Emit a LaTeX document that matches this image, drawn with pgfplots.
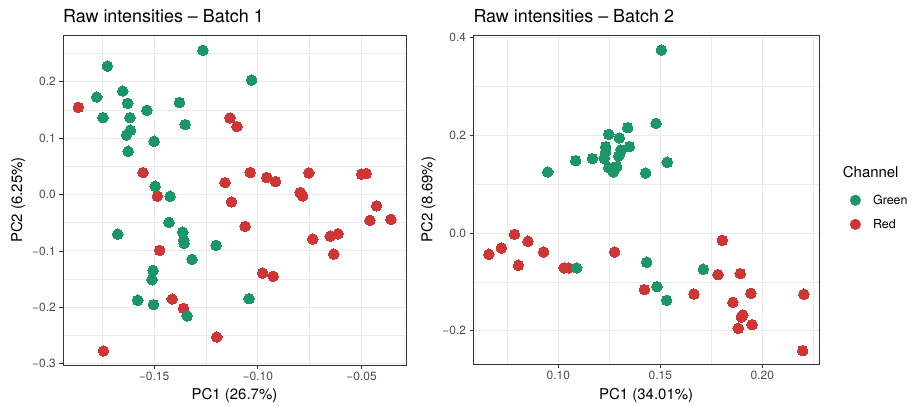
\documentclass[border=0pt]{standalone}
\usepackage{fontspec}
\setmainfont{TeX Gyre Heros}
\usepackage{pgfplots}
\pgfplotsset{compat=1.18}
\definecolor{cgreen}{HTML}{1B9669}
\definecolor{cred}{HTML}{D03535}
\definecolor{gridc}{HTML}{EBEBEB}
\definecolor{framec}{HTML}{333333}
\definecolor{ticklab}{HTML}{4D4D4D}
\pgfplotsset{
  ggstyle/.style={
    scale only axis,
    axis line style={framec, line width=0.8bp},
    tick style={framec, line width=0.7bp},
    tick align=outside,
    major tick length=3.7bp,
    minor tick length=0pt,
    grid=both,
    major grid style={gridc, line width=0.9bp},
    minor grid style={gridc, line width=0.45bp},
    tick pos=left,
    ticklabel style={font=\fontsize{12}{12}\selectfont, text=ticklab},
    label style={font=\fontsize{15}{15}\selectfont},
    title style={font=\fontsize{18}{18}\selectfont, at={(0,1)}, anchor=base west, yshift=7bp, inner sep=0pt},
    xlabel style={yshift=-1bp},
  },
  gpts/.style={only marks, mark=*, color=cgreen, mark size=5.3bp, mark options={line width=0pt}},
  rpts/.style={only marks, mark=*, color=cred, mark size=5.3bp, mark options={line width=0pt}},
}
\begin{document}
\begin{tikzpicture}
\useasboundingbox (0,0) rectangle (912bp,406bp);
\begin{axis}[ggstyle,
  at={(63bp,41bp)}, anchor=south west, width=343bp, height=330bp,
  xmin=-0.1939, xmax=-0.0286, ymin=-0.3023, ymax=0.2827,
  xtick={-0.15,-0.10,-0.05}, xticklabels={−0.15,−0.10,−0.05},
  minor xtick={-0.175,-0.125,-0.075},
  ytick={-0.3,-0.2,-0.1,0,0.1,0.2}, yticklabels={−0.3,−0.2,−0.1,0.0,0.1,0.2},
  minor ytick={-0.25,-0.15,-0.05,0.05,0.15,0.25},
  title={Raw intensities – Batch 1},
  xlabel={PC1 (26.7\%)}, ylabel={PC2 (6.25\%)},
]
\addplot[rpts] coordinates {
(-0.1865,0.1545) (-0.1134,0.1356) (-0.1101,0.1204) (-0.1553,0.0389) (-0.1037,0.0389)
(-0.1158,0.0212) (-0.0957,0.0301) (-0.0915,0.0230) (-0.0754,0.0382) (-0.0500,0.0359)
(-0.0478,0.0372) (-0.0796,0.0035) (-0.0784,-0.0025) (-0.1484,-0.0030) (-0.1127,-0.0131)
(-0.1061,-0.0566) (-0.1473,-0.0991) (-0.0977,-0.1393) (-0.0926,-0.1451) (-0.1413,-0.1853)
(-0.1358,-0.2018) (-0.1198,-0.2526) (-0.1744,-0.2773) (-0.0735,-0.0791) (-0.0651,-0.0738)
(-0.0613,-0.0697) (-0.0634,-0.1057) (-0.0460,-0.0460) (-0.0428,-0.0202) (-0.0359,-0.0442)
};
\addplot[gpts] coordinates {
(-0.1265,0.2554) (-0.1725,0.2276) (-0.1030,0.2028) (-0.1651,0.1834) (-0.1776,0.1728)
(-0.1627,0.1616) (-0.1378,0.1628) (-0.1535,0.1492) (-0.1746,0.1363) (-0.1616,0.1363)
(-0.1350,0.1239) (-0.1614,0.1138) (-0.1633,0.1055) (-0.1500,0.0943) (-0.1625,0.0766)
(-0.1495,0.0147) (-0.1423,-0.0030) (-0.1428,-0.0496) (-0.1675,-0.0703) (-0.1362,-0.0667)
(-0.1357,-0.0809) (-0.1355,-0.0867) (-0.1201,-0.0903) (-0.1317,-0.1150) (-0.1505,-0.1345)
(-0.1510,-0.1511) (-0.1579,-0.1876) (-0.1503,-0.1954) (-0.1341,-0.2154) (-0.1042,-0.1847)
};
\end{axis}
\begin{axis}[ggstyle,
  at={(473.3bp,41.7bp)}, anchor=south west, width=345.7bp, height=329.3bp,
  xmin=0.0583, xmax=0.2278, ymin=-0.2688, ymax=0.4053,
  xtick={0.10,0.15,0.20}, xticklabels={0.10,0.15,0.20},
  minor xtick={0.075,0.125,0.175,0.225},
  ytick={-0.2,0,0.2,0.4}, yticklabels={−0.2,0.0,0.2,0.4},
  minor ytick={-0.1,0.1,0.3},
  title={Raw intensities – Batch 2},
  xlabel={PC1 (34.01\%)}, ylabel={PC2 (8.69\%)},
  legend style={draw=none, fill=none, at={(axis description cs:1,0.5)}, anchor=north west, xshift=30.7bp, yshift=7bp,
    font=\fontsize{12.5}{12.5}\selectfont, row sep=9.5bp, inner sep=0pt},
  legend cell align=left,
  legend image code/.code={\fill[#1] (5.3bp,0bp) circle (5.3bp); \path[draw=none] (0,0) -- (21bp,0);},
]
\addplot[rpts, forget plot] coordinates {
(0.0659,-0.0436) (0.0721,-0.0307) (0.0785,-0.0027) (0.0851,-0.0170) (0.0804,-0.0661)
(0.0928,-0.0389) (0.1028,-0.0716) (0.1051,-0.0716) (0.1276,-0.0389) (0.1422,-0.1160)
(0.1665,-0.1249) (0.1804,-0.0150) (0.1783,-0.0853) (0.1892,-0.0832) (0.1944,-0.1235)
(0.1856,-0.1419) (0.1905,-0.1679) (0.1897,-0.1720) (0.1882,-0.1951) (0.1950,-0.1877)
(0.2204,-0.1255) (0.2198,-0.2409)
};
\addplot[gpts, forget plot] coordinates {
(0.1505,0.3746) (0.1479,0.2245) (0.1340,0.2156) (0.1247,0.2020) (0.1299,0.1945)
(0.1232,0.1767) (0.1348,0.1767) (0.1307,0.1699) (0.1232,0.1664) (0.1296,0.1576)
(0.1085,0.1480) (0.1167,0.1521) (0.1225,0.1529) (0.1534,0.1447) (0.1247,0.1337)
(0.1286,0.1357) (0.1270,0.1249) (0.0948,0.1249) (0.1428,0.1228) (0.1090,-0.0716)
(0.1433,-0.0600) (0.1484,-0.1099) (0.1531,-0.1378) (0.1711,-0.0743)
};
\addlegendimage{cgreen}
\addlegendentry{Green}
\addlegendimage{cred}
\addlegendentry{Red}
\end{axis}
\node[anchor=base west, font=\fontsize{15}{15}\selectfont, inner sep=0pt] at (842.7bp,228bp) {Channel};
\end{tikzpicture}
\end{document}
